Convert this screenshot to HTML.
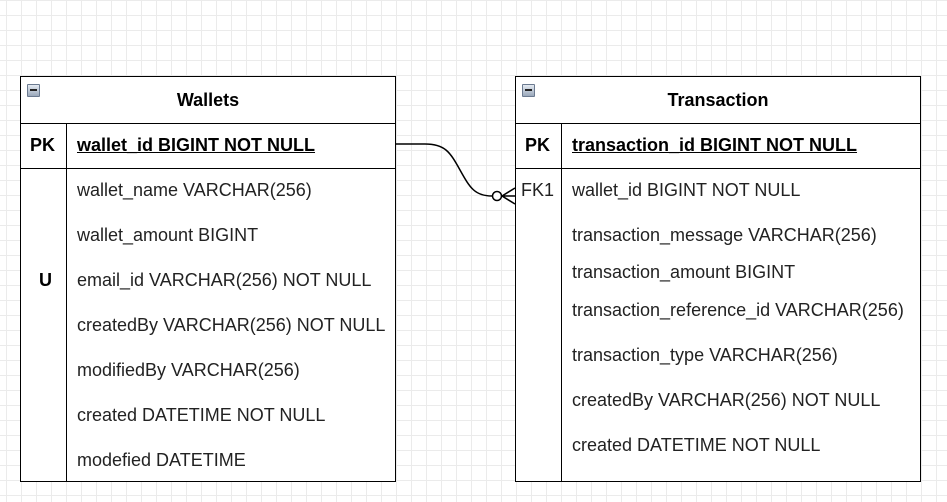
<!DOCTYPE html>
<html><head><style>
body{margin:0;width:947px;height:502px;overflow:hidden;background:#fff;
background-image:linear-gradient(#ebebeb 1px,transparent 1px),linear-gradient(90deg,#ebebeb 1px,transparent 1px);
background-size:15px 15px;background-position:6px 0;font-family:"Liberation Sans",sans-serif;position:relative}
.t{position:absolute;background:#fff;border:1.5px solid #000;box-sizing:border-box}
.h{position:absolute;left:0;right:0;top:0;height:46px;border-bottom:1.5px solid #000;font-weight:bold;font-size:18px;text-align:center;line-height:46px}
.pk{position:absolute;left:0;right:0;top:46px;height:45px;border-bottom:1.5px solid #000}
.kc{position:absolute;left:45px;top:46px;bottom:0;border-left:1.5px solid #000}
.s{position:absolute;font-size:18px;color:#222;white-space:nowrap;line-height:22px}
.b{font-weight:bold;color:#000}
.u{text-decoration:underline}
.ic{position:absolute;left:6px;top:7px;width:13px;height:13px;background:linear-gradient(#e4eaf2,#9aa8bb);border:1px solid #6b7a90;box-sizing:border-box;border-radius:1px}
.ic:after{content:"";position:absolute;left:2px;right:2px;top:4px;height:2px;background:#222}
</style></head><body>
<div class="t" style="left:20px;top:76px;width:376px;height:406px">
<div class="ic"></div><div class="h">Wallets</div><div class="pk"></div><div class="kc"></div>
<div class="s b" style="left:9px;top:57px">PK</div>
<div class="s b u" style="left:56px;top:57px">wallet_id BIGINT NOT NULL</div>
<div class="s" style="left:56px;top:102px">wallet_name VARCHAR(256)</div>
<div class="s" style="left:56px;top:147px">wallet_amount BIGINT</div>
<div class="s b" style="left:18px;top:192px">U</div>
<div class="s" style="left:56px;top:192px">email_id VARCHAR(256) NOT NULL</div>
<div class="s" style="left:56px;top:237px">createdBy VARCHAR(256) NOT NULL</div>
<div class="s" style="left:56px;top:282px">modifiedBy VARCHAR(256)</div>
<div class="s" style="left:56px;top:327px">created DATETIME NOT NULL</div>
<div class="s" style="left:56px;top:372px">modefied DATETIME</div>
</div>
<div class="t" style="left:515px;top:76px;width:406px;height:406px">
<div class="ic"></div><div class="h">Transaction</div><div class="pk"></div><div class="kc"></div>
<div class="s b" style="left:9px;top:57px">PK</div>
<div class="s b u" style="left:56px;top:57px">transaction_id BIGINT NOT NULL</div>
<div class="s" style="left:5px;top:102px">FK1</div>
<div class="s" style="left:56px;top:102px">wallet_id BIGINT NOT NULL</div>
<div class="s" style="left:56px;top:147px">transaction_message VARCHAR(256)</div>
<div class="s" style="left:56px;top:184px">transaction_amount BIGINT</div>
<div class="s" style="left:56px;top:222px">transaction_reference_id VARCHAR(256)</div>
<div class="s" style="left:56px;top:267px">transaction_type VARCHAR(256)</div>
<div class="s" style="left:56px;top:312px">createdBy VARCHAR(256) NOT NULL</div>
<div class="s" style="left:56px;top:357px">created DATETIME NOT NULL</div>
</div>
<svg style="position:absolute;left:0;top:0" width="947" height="502">
<path d="M396 144 H425 C445 144 450 152 460 170 C470 188 475 196 492 196" fill="none" stroke="#000" stroke-width="1.5"/>
<circle cx="497" cy="196" r="4.5" fill="#fff" stroke="#000" stroke-width="1.5"/>
<path d="M515 188 L502 196 L515 204 M502 196 H515" fill="none" stroke="#000" stroke-width="1.5"/>
</svg>
</body></html>
